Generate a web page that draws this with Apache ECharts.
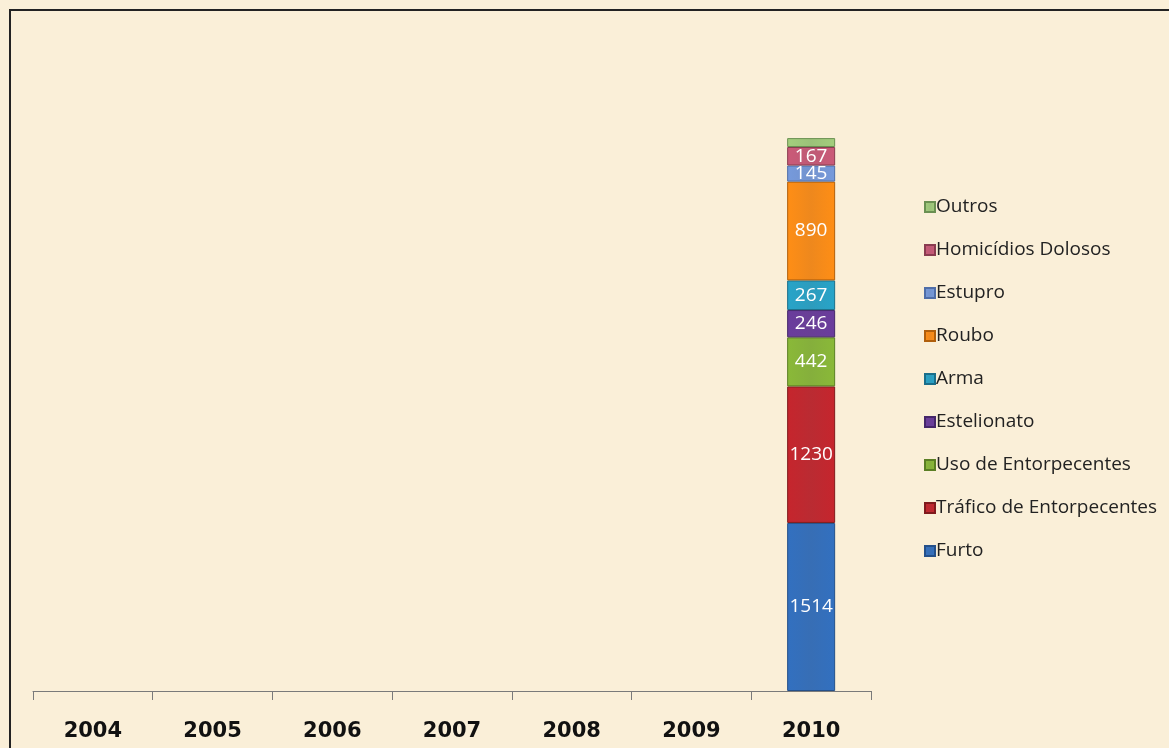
<!DOCTYPE html>
<html>
<head>
<meta charset="utf-8">
<script src="https://cdn.jsdelivr.net/npm/echarts@6/dist/echarts.min.js"></script>
<style>
html,body{margin:0;padding:0;background:#faefd8;}
#frame{position:absolute;left:9px;top:9px;width:1160px;height:739px;border-left:2px solid #222;border-top:2px solid #222;box-sizing:border-box;background:#faefd8;}
#chart{position:absolute;left:0;top:0;width:1169px;height:748px;}
</style>
</head>
<body>
<div id="frame"></div>
<div id="chart"></div>
<script>
var categories = ['2004','2005','2006','2007','2008','2009','2010'];
var seriesNames = ['Furto','Tráfico de Entorpecentes','Uso de Entorpecentes','Estelionato','Arma','Roubo','Estupro','Homicídios Dolosos','Outros'];
var furto       = [null,null,null,null,null,null,1514];
var trafico     = [null,null,null,null,null,null,1230];
var uso         = [null,null,null,null,null,null,442];
var estelionato = [null,null,null,null,null,null,246];
var arma        = [null,null,null,null,null,null,267];
var roubo       = [null,null,null,null,null,null,890];
var estupro     = [null,null,null,null,null,null,145];
var homicidios  = [null,null,null,null,null,null,167];
var outros      = [null,null,null,null,null,null,80];
var seriesData = [furto,trafico,uso,estelionato,arma,roubo,estupro,homicidios,outros];
var colors = ['#2f68b2','#b8232a','#80ac34','#633892','#2598bb','#ee8414','#6e8fcc','#bc5470','#97bf74'];
var borders = ['#24508a','#7f1a1d','#5a7e24','#45276a','#1a6e8a','#b05f0c','#4f6ea8','#8a3c50','#6a9052'];
var showLabel = [true,true,true,true,true,true,true,true,false];

function grad(c){
  return new echarts.graphic.LinearGradient(0,0,1,0,[
    {offset:0,color:echarts.color.lift(c,-0.08)},
    {offset:0.5,color:echarts.color.lift(c,0.04)},
    {offset:1,color:echarts.color.lift(c,-0.08)}
  ]);
}

var series = seriesNames.map(function(n,i){
  return {
    name:n, type:'bar', stack:'total', barWidth:48,
    data:seriesData[i],
    itemStyle:{color:grad(colors[i]), borderColor:borders[i], borderWidth:1},
    label:{show:showLabel[i], position:'inside', color:'#ffffff', fontFamily:'Open Sans', fontSize:19},
    emphasis:{disabled:true}
  };
});

var chart = echarts.init(document.getElementById('chart'));
chart.setOption({
  backgroundColor:'transparent',
  animation:false,
  color:colors,
  grid:{left:33,right:298,top:25,bottom:57,containLabel:false},
  xAxis:{type:'category',data:categories,
    axisLine:{lineStyle:{color:'#7a7a7a',width:1}},
    axisTick:{show:true,length:9,lineStyle:{color:'#7a7a7a'}},
    axisLabel:{color:'#111',fontWeight:'bold',fontSize:21,fontFamily:'DejaVu Sans',margin:30}
  },
  yAxis:{type:'value',min:0,max:6000,show:false,splitLine:{show:false}},
  legend:{orient:'vertical',left:919,top:192,data:seriesNames.slice().reverse(),
    itemWidth:10,itemHeight:10,itemGap:23,icon:'rect',
    textStyle:{fontFamily:'Open Sans',fontSize:19,color:'#222',lineHeight:20,padding:[0,0,0,-4]},
    selectedMode:false
  },
  series:series
});
</script>
</body>
</html>
